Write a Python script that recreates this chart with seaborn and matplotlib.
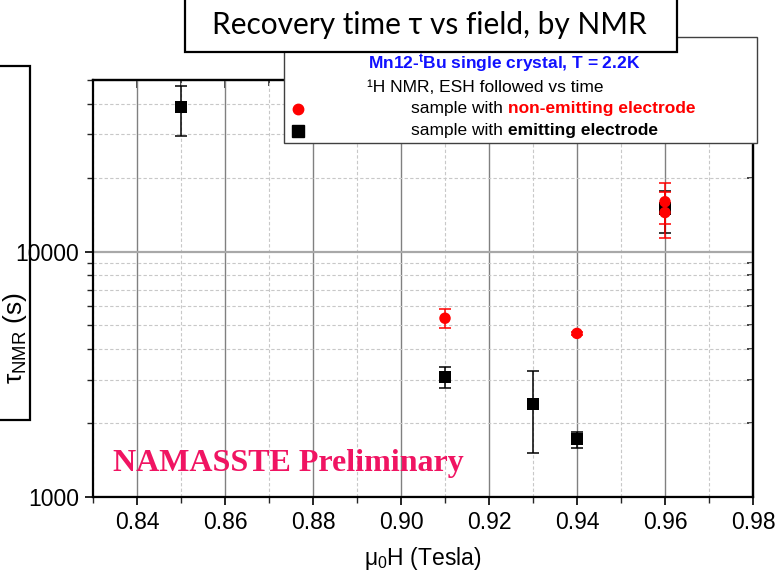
import numpy as np
import pandas as pd
import matplotlib
matplotlib.use("Agg")
import matplotlib.pyplot as plt
import seaborn as sns
from matplotlib.patches import Rectangle
from matplotlib.lines import Line2D
from matplotlib.text import Annotation
from matplotlib.ticker import LogLocator, NullFormatter, FixedFormatter, MultipleLocator, FixedLocator

# --- data -------------------------------------------------------------
field_emit = [0.85, 0.91, 0.93, 0.94, 0.96]
tau_emit = [38800, 3080, 2390, 1720, 15000]
tau_emit_hi = [47300, 3370, 3250, 1840, 17700]
tau_emit_lo = [29600, 2770, 1510, 1580, 11900]

field_nonemit = [0.91, 0.94, 0.96, 0.96]
tau_nonemit = [5350, 4640, 15960, 14420]
tau_nonemit_hi = [5810, 4720, 19060, 17550]
tau_nonemit_lo = [4870, 4560, 13000, 11400]

x_ticks = [0.84, 0.86, 0.88, 0.90, 0.92, 0.94, 0.96, 0.98]
x_tick_labels = ["0.84", "0.86", "0.88", "0.90", "0.92", "0.94", "0.96", "0.98"]
y_ticks = [1000, 10000]
y_tick_labels = ["1000", "10000"]

# --- style ------------------------------------------------------------
sns.set_theme(style="white")
plt.rcParams["font.family"] = ["Liberation Sans", "DejaVu Sans"]
plt.rcParams["mathtext.fontset"] = "custom"
plt.rcParams["mathtext.rm"] = "Liberation Sans"
plt.rcParams["mathtext.it"] = "Liberation Sans:italic"
plt.rcParams["mathtext.bf"] = "Liberation Sans:bold"

W, H = 779, 573
fig = plt.figure(figsize=(W / 100, H / 100), dpi=100)


def fx(px):
    return px / W


def fy(py):
    return 1 - py / H


ax = fig.add_axes([fx(93), fy(497), fx(753) - fx(93), fy(80) - fy(497)])
ax.set_yscale("log")
ax.set_xlim(0.83, 0.98)
ax.set_ylim(1000, 50000)

df = pd.concat([
    pd.DataFrame({"field": field_emit, "tau": tau_emit,
                  "sample": "emitting"}),
    pd.DataFrame({"field": field_nonemit, "tau": tau_nonemit,
                  "sample": "non-emitting"}),
], ignore_index=True)

# grid
ax.xaxis.set_major_locator(FixedLocator(x_ticks))
ax.xaxis.set_major_formatter(FixedFormatter(x_tick_labels))
ax.xaxis.set_minor_locator(MultipleLocator(0.01))
ax.yaxis.set_major_locator(FixedLocator(y_ticks))
ax.yaxis.set_major_formatter(FixedFormatter(y_tick_labels))
ax.yaxis.set_minor_locator(LogLocator(base=10, subs=np.arange(2, 10)))
ax.yaxis.set_minor_formatter(NullFormatter())
ax.grid(False)
ax.grid(which="major", axis="x", color="#808080", lw=1.0, ls="-")
ax.grid(which="major", axis="y", color="#a8a8a8", lw=1.6, ls="-")
ax.grid(which="minor", axis="both", color="#c8c8c8", lw=0.8, ls=(0, (3, 2)))
ax.set_axisbelow(True)

# error bars
ax.errorbar(field_emit, tau_emit,
            yerr=[np.array(tau_emit) - np.array(tau_emit_lo),
                  np.array(tau_emit_hi) - np.array(tau_emit)],
            fmt="none", ecolor="black", elinewidth=1.1, capsize=4.5,
            capthick=1.1, zorder=3)
ax.errorbar(field_nonemit, tau_nonemit,
            yerr=[np.array(tau_nonemit) - np.array(tau_nonemit_lo),
                  np.array(tau_nonemit_hi) - np.array(tau_nonemit)],
            fmt="none", ecolor="red", elinewidth=1.1, capsize=4.0,
            capthick=1.1, zorder=4)

sns.scatterplot(data=df, x="field", y="tau", hue="sample", style="sample",
                hue_order=["emitting", "non-emitting"],
                style_order=["emitting", "non-emitting"],
                palette={"emitting": "black", "non-emitting": "red"},
                markers={"emitting": "s", "non-emitting": "o"},
                size="sample", sizes={"emitting": 80, "non-emitting": 68},
                linewidth=0, legend=False, ax=ax, zorder=5)

# axes frame and ticks
for s in ax.spines.values():
    s.set_color("black")
    s.set_linewidth(1.6)
    s.set_visible(True)
ax.tick_params(which="major", direction="out", length=6, width=1.2,
               labelsize=16.5, colors="black", pad=4, left=True, bottom=True)
ax.tick_params(which="minor", direction="out", length=4, width=1.0,
               left=True, bottom=True)

sec_x = ax.secondary_xaxis("top")
sec_x.xaxis.set_major_locator(FixedLocator(x_ticks))
sec_x.xaxis.set_minor_locator(MultipleLocator(0.01))
sec_x.tick_params(which="both", direction="in", labeltop=False, width=1.2)
sec_x.tick_params(which="major", length=6)
sec_x.tick_params(which="minor", length=4)
sec_x.spines["top"].set_linewidth(1.6)

sec_y = ax.secondary_yaxis("right")
sec_y.yaxis.set_major_locator(FixedLocator(y_ticks))
sec_y.yaxis.set_minor_locator(LogLocator(base=10, subs=np.arange(2, 10)))
sec_y.tick_params(which="both", direction="in", labelright=False, width=1.2)
sec_y.tick_params(which="major", length=6)
sec_y.tick_params(which="minor", length=4)
sec_y.spines["right"].set_linewidth(1.6)

ax.set_xlabel("μ$_0$H (Tesla)", fontsize=16.5, color="black", labelpad=8)
ax.set_ylabel("")

# watermark
ax.text(fx(113), fy(463), "NAMASSTE Preliminary", transform=fig.transFigure,
        fontsize=23, fontweight="bold", family="Liberation Serif",
        color="#f01462", ha="left", va="center", zorder=6)

# y-label panel
fig.patches.append(Rectangle((fx(-5), fy(420)), fx(35), fy(66) - fy(420),
                             transform=fig.transFigure, facecolor="none",
                             edgecolor="black", lw=1.6, zorder=1))
fig.text(fx(15), fy(338), "τ$_{\\mathregular{NMR}}$ (s)", rotation=90,
         fontsize=19, ha="center", va="center", color="black")

# title panel
fig.patches.append(Rectangle((fx(185), fy(52)), fx(492), fy(-5) - fy(52),
                             transform=fig.transFigure, facecolor="white",
                             edgecolor="black", lw=1.6, zorder=20))
fig.text(fx(429), fy(25), "Recovery time τ vs field, by NMR",
         fontsize=21.5, family=["Lato", "DejaVu Sans"], ha="center",
         va="center", color="black", zorder=21)

# legend panel
fig.patches.append(Rectangle((fx(284), fy(143)), fx(473), fy(37) - fy(143),
                             transform=fig.transFigure, facecolor="white",
                             edgecolor="#404040", lw=1.0, zorder=10))
fig.text(fx(368), fy(64), "Mn12-$^{\\mathbf{t}}$Bu single crystal, T = 2.2K",
         fontsize=12.5, fontweight="bold", color="#1010ff",
         ha="left", va="center", zorder=11)
fig.text(fx(367), fy(87), "¹H NMR, ESH followed vs time",
         fontsize=12.5, color="black", ha="left", va="center", zorder=11)

fig.lines.append(Line2D([fx(298)], [fy(109)], marker="o", color="red",
                        markersize=7.5, lw=0, transform=fig.transFigure,
                        zorder=11))
fig.lines.append(Line2D([fx(298)], [fy(131)], marker="s", color="black",
                        markersize=8.5, lw=0, transform=fig.transFigure,
                        zorder=11))

t1 = fig.text(fx(411), fy(109), "sample with ", fontsize=12.5,
              color="black", ha="left", va="center", zorder=11)
t2 = fig.text(fx(411), fy(131), "sample with ", fontsize=12.5,
              color="black", ha="left", va="center", zorder=11)
for base, words, col in [(t1, "non-emitting electrode", "red"),
                         (t2, "emitting electrode", "black")]:
    ann = Annotation(words, xy=(1, 0), xycoords=base, va="bottom",
                     ha="left", fontsize=12.5, fontweight="bold", color=col,
                     annotation_clip=False, zorder=11)
    fig.add_artist(ann)

fig.savefig("out.png", dpi=100)
